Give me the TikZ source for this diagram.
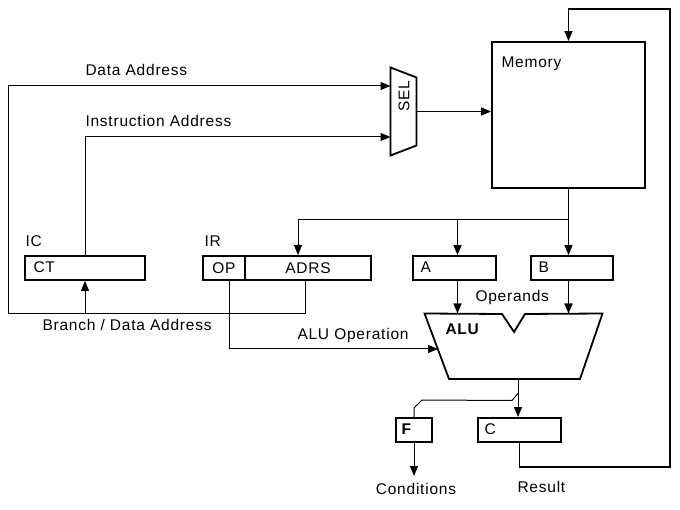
\documentclass[tikz,border=0pt]{standalone}
\usepackage{fontspec}
\setmainfont{Liberation Sans}[LetterSpace=5]
\usetikzlibrary{arrows.meta}

\begin{document}
\begin{tikzpicture}[x=1pt,y=-1pt,line width=1pt,
    font=\fontsize{15.5}{17}\selectfont,
    reg/.style={draw,line width=1.8pt,minimum height=24pt,inner sep=0pt},
    arr/.style={-{Triangle[length=10pt,width=8pt]},line width=1pt},
    lbl/.style={anchor=base west,inner sep=0pt}]
    \useasboundingbox (0,0) rectangle (680,510);
    % memory and selector
    \node[reg,minimum width=153pt,minimum height=146pt] (mem) at (568.5,115) {};
    \node[lbl] (memlbl) at (501,68) {Memory};
    \node[inner sep=0pt,minimum width=25pt,minimum height=87pt] (sel) at (403.5,111.5) {};
    \draw[line width=1.8pt] (sel.north west) -- ([yshift=-10pt]sel.north east)
        -- ([yshift=10pt]sel.south east) -- (sel.south west) -- cycle;
    \node[rotate=90,inner sep=0pt] (sellbl) at (404,96) {SEL};
    % registers
    \node[reg,minimum width=120pt] (ct) at (85,268) {};
    \node[lbl] (ctlbl) at (33,273) {CT};
    \node[lbl] (iclbl) at (25,247) {IC};
    \node[reg,minimum width=42pt] (op) at (224,268) {OP};
    \node[reg,minimum width=126pt] (adrs) at (308,268) {ADRS};
    \node[lbl] (irlbl) at (204,247) {IR};
    \node[reg,minimum width=83pt] (a) at (454.5,268) {};
    \node[lbl] (albl) at (420,273) {A};
    \node[reg,minimum width=82pt] (b) at (572,268) {};
    \node[lbl] (blbl) at (538,273) {B};
    \node[reg,minimum width=36pt] (f) at (414,430) {};
    \node[lbl] (flbl) at (401,435) {\bfseries F};
    \node[reg,minimum width=83pt] (c) at (519.5,430) {};
    \node[lbl] (clbl) at (484,435) {C};
    % alu
    \node[inner sep=0pt,minimum width=177pt,minimum height=65pt] (alu) at (513.5,346.5) {};
    \draw[line width=1.8pt] (alu.north west) -- (502,314) -- (514,332) -- (525,314)
        -- (alu.north east) -- (580,379) -- (449,379) -- cycle;
    \node[lbl] (alulbl) at (445,335) {\bfseries ALU};
    % labels
    \node[lbl] (dalbl) at (85,76) {Data Address};
    \node[lbl] (ialbl) at (85,127) {Instruction Address};
    \node[lbl] (bdlbl) at (42,331) {Branch / Data Address};
    \node[lbl] (aolbl) at (297,340) {ALU Operation};
    \node[lbl] (oplbl) at (475,302) {Operands};
    \node[anchor=base,inner sep=0pt] (cond) at (416,494) {Conditions};
    \node[lbl] (res) at (517,492) {Result};
    % address buses
    \coordinate (bl) at (8,314);
    \coordinate (adout) at ([xshift=-3pt]adrs.south);
    \draw[arr] (adout) -- (adout |- bl) -- (bl) -- (8,86) -- (sel.west |- 0,86);
    \draw[arr] (ct.south |- bl) -- (ct.south);
    \draw[arr] (ct.north) -- (ct.north |- 0,137) -- (sel.west |- 0,137);
    \draw[arr] (sel.east) -- (mem.west |- sel.east);
    % memory out
    \coordinate (mb) at (568.5,220);
    \coordinate (irin) at ([xshift=-10pt]adrs.north);
    \coordinate (ain) at ([xshift=3pt]a.north);
    \draw (mem.south) -- (mb);
    \draw[arr] (mb) -- (irin |- mb) -- (irin);
    \draw[arr,line width=1.6pt] (ain |- mb) -- (ain);
    \draw[arr] (mb) -- (mb |- b.north);
    % operands
    \draw[arr,line width=1.6pt] (ain |- a.south) -- (ain |- alu.north);
    \draw[arr,line width=1.6pt] (mb |- b.south) -- (mb |- alu.north);
    \coordinate (opout) at ([xshift=5pt]op.south);
    \coordinate (aluop) at (438,349);
    \draw[arr] (opout) -- (opout |- aluop) -- (aluop);
    % alu out
    \coordinate (aluout) at ([xshift=-1.5pt]c.north |- alu.south);
    \draw[arr] (aluout) -- ([xshift=-1.5pt]c.north);
    \draw ([yshift=-14pt]aluout) -- ++(-6,7) -- (422,400) -- (414,408) -- (f.north);
    \draw[arr] (f.south) -- (f.south |- 0,476);
    % result back to memory
    \draw[arr,line width=1.5pt] (c.south) -- (c.south |- 0,467) -- (670,467) -- (670,9)
        -- (mem.north |- 0,9) -- (mem.north);
\end{tikzpicture}
\end{document}
